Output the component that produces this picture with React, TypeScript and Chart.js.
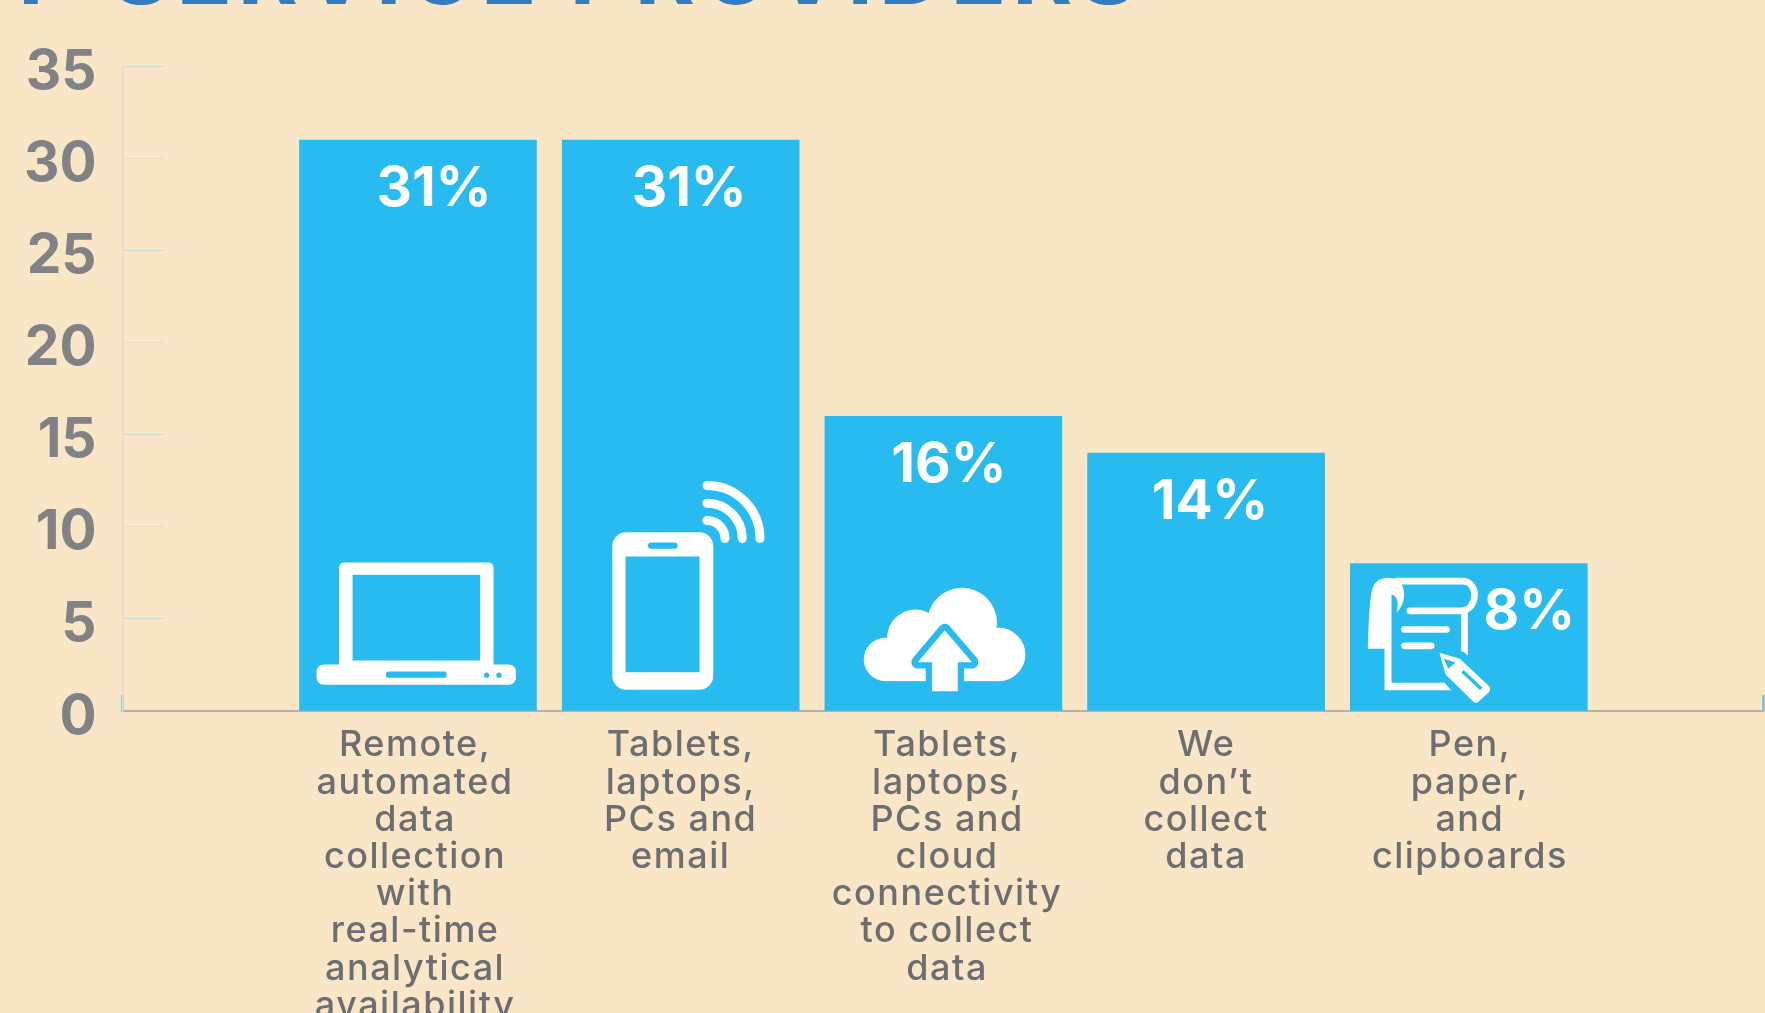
import React, { useEffect, useRef } from "react";
import { Chart, registerables } from "chart.js";

Chart.register(...registerables);

const headline = "P SERVICE PROVIDERS";
const categories: string[][] = [
  ["Remote,", "automated", "data", "collection", "with", "real-time", "analytical", "availability"],
  ["Tablets,", "laptops,", "PCs and", "email"],
  ["Tablets,", "laptops,", "PCs and", "cloud", "connectivity", "to collect", "data"],
  ["We", "don\u2019t", "collect", "data"],
  ["Pen,", "paper,", "and", "clipboards"],
];
const shares: number[] = [31, 31, 16, 14, 8];

const BLUE = "#27bbef";
const CREAM = "#f9e6c6";
const WHITE = "#ffffff";

// Horizontal extent of the value axis, in bar slots around the five bars.
const X_MIN = -1.124;
const X_MAX = 5.121;
// Caption centres sit slightly off some bar centres.
const captionNudge = [-0.011, 0, 0.014, 0, 0.004];
const percentNudge = [16, 8.5, 5.5, 4, 60.5];

type Ctx = CanvasRenderingContext2D;

function roundRect(c: Ctx, x: number, y: number, w: number, h: number, r: number) {
  c.beginPath();
  c.roundRect(x, y, w, h, r);
}

function drawLaptop(c: Ctx) {
  c.fillStyle = WHITE;
  roundRect(c, -79, -148, 154.6, 110, 5);
  c.fill();
  roundRect(c, -101.4, -46, 199.4, 20.3, 7);
  c.fill();
  c.fillStyle = BLUE;
  c.fillRect(-65.4, -135.7, 127.4, 85.7);
  roundRect(c, -32, -39, 60.6, 6.3, 2);
  c.fill();
  c.beginPath();
  c.arc(68.6, -35.3, 2.6, 0, Math.PI * 2);
  c.arc(81, -35.3, 2.6, 0, Math.PI * 2);
  c.fill();
}

function drawTablet(c: Ctx) {
  c.fillStyle = WHITE;
  roundRect(c, -68.4, -178.3, 101, 157.6, 14);
  c.fill();
  c.fillStyle = BLUE;
  c.fillRect(-55.1, -154, 74, 115.7);
  roundRect(c, -32.7, -168, 29.6, 6.3, 3);
  c.fill();
  c.strokeStyle = WHITE;
  c.lineWidth = 9;
  c.lineCap = "round";
  for (const r of [18, 35.3, 53]) {
    c.beginPath();
    c.arc(26.3, -172, r, -Math.PI / 2, 0);
    c.stroke();
  }
}

function drawCloud(c: Ctx) {
  c.save();
  c.translate(-93, -141);
  c.scale(1 / 3, 1 / 3);
  c.fillStyle = WHITE;
  for (const [x, y, r] of [[105, 270, 65], [195, 205, 85], [335, 160, 105], [445, 255, 80]]) {
    c.beginPath();
    c.arc(x, y, r, 0, Math.PI * 2);
    c.fill();
  }
  c.fillRect(105, 230, 340, 105);
  c.beginPath();
  c.moveTo(283, 182);
  c.lineTo(365, 278);
  c.lineTo(322, 278);
  c.lineTo(322, 365);
  c.lineTo(245, 365);
  c.lineTo(245, 278);
  c.lineTo(202, 278);
  c.closePath();
  c.strokeStyle = BLUE;
  c.lineWidth = 38;
  c.lineJoin = "round";
  c.stroke();
  c.fill();
  c.restore();
}

function drawClipboard(c: Ctx) {
  c.save();
  c.translate(-108.3, -141);
  c.scale(1 / 3, 1 / 3);
  c.fillStyle = WHITE;
  c.beginPath();
  c.moveTo(22, 238);
  c.bezierCurveTo(24, 150, 28, 90, 35, 60);
  c.bezierCurveTo(42, 35, 60, 25, 85, 25);
  c.lineTo(118, 30);
  c.bezierCurveTo(135, 60, 138, 100, 108, 130);
  c.bezierCurveTo(115, 100, 112, 80, 93, 75);
  c.lineTo(93, 340);
  c.lineTo(252, 340);
  c.lineTo(272, 362);
  c.lineTo(72, 362);
  c.lineTo(72, 238);
  c.closePath();
  c.fill();

  c.strokeStyle = WHITE;
  c.lineCap = "round";
  c.lineWidth = 20;
  c.beginPath();
  c.moveTo(110, 35);
  c.lineTo(305, 35);
  c.bezierCurveTo(332, 35, 342, 58, 342, 75);
  c.bezierCurveTo(342, 105, 325, 124, 300, 124);
  c.lineTo(148, 124);
  c.stroke();
  c.beginPath();
  c.moveTo(132, 180);
  c.lineTo(258, 180);
  c.moveTo(132, 229);
  c.lineTo(212, 229);
  c.stroke();

  c.beginPath();
  c.moveTo(302, 128);
  c.lineTo(322, 122);
  c.lineTo(322, 258);
  c.bezierCurveTo(315, 250, 310, 247, 302, 245);
  c.closePath();
  c.fill();

  // Pencil, with its point and barrel slot cut out in the bar colour.
  c.beginPath();
  c.moveTo(237, 250);
  c.lineTo(298, 268);
  c.lineTo(386, 350);
  c.quadraticCurveTo(392, 360, 385, 368);
  c.lineTo(352, 398);
  c.quadraticCurveTo(345, 403, 338, 396);
  c.lineTo(255, 315);
  c.closePath();
  c.fill();
  c.fillStyle = BLUE;
  c.beginPath();
  c.moveTo(250, 268);
  c.lineTo(285, 279);
  c.lineTo(263, 298);
  c.closePath();
  c.fill();
  c.strokeStyle = BLUE;
  c.lineWidth = 10;
  c.lineCap = "butt";
  c.beginPath();
  c.moveTo(306, 305);
  c.lineTo(362, 358);
  c.stroke();
  c.restore();
}

const iconPainters: ((c: Ctx) => void)[] = [drawLaptop, drawTablet, drawCloud, () => {}, drawClipboard];

const barDecorations = {
  id: "barDecorations",
  afterDatasetsDraw(chart: Chart) {
    const c = chart.ctx;
    chart.getDatasetMeta(0).data.forEach((bar: any, i: number) => {
      c.save();
      c.translate(bar.x, bar.base);
      iconPainters[i](c);
      c.restore();
      c.save();
      c.fillStyle = WHITE;
      c.font = "700 55px Inter";
      c.textAlign = "center";
      c.textBaseline = "middle";
      c.fillText(`${shares[i]}%`, bar.x + percentNudge[i], bar.y + 49);
      c.restore();
    });
  },
};

// The heading and captions are set in a wide face; tracking brings Inter to that measure.
function withTracking(target: any, method: string, spacing: string) {
  const original = target[method];
  target[method] = function (...args: any[]) {
    const c = this.ctx as any;
    c.letterSpacing = spacing;
    original.apply(this, args);
    c.letterSpacing = "0px";
  };
}

const wideText = {
  id: "wideText",
  afterLayout(chart: any) {
    if (chart.$tracked) return;
    chart.$tracked = true;
    withTracking(chart.scales.x, "drawLabels", "1.5px");
    withTracking(chart.titleBlock, "draw", "5.5px");
  },
};

export default function App() {
  const ref = useRef<HTMLCanvasElement>(null);

  useEffect(() => {
    document.body.style.margin = "0";
    document.body.style.background = CREAM;
    const captionTicks = [X_MIN, ...captionNudge.map((n, i) => i + n), X_MAX];
    const chart = new Chart(ref.current!, {
      type: "bar",
      data: {
        datasets: [
          {
            data: shares.map((y, x) => ({ x, y })),
            backgroundColor: BLUE,
            barThickness: 237,
          },
        ],
      },
      plugins: [barDecorations, wideText],
      options: {
        animation: false,
        responsive: false,
        layout: { padding: { left: 18, right: 1.7 } },
        plugins: {
          legend: { display: false },
          tooltip: { enabled: false },
          title: {
            display: true,
            text: headline,
            align: "start",
            color: "#337cc0",
            font: { family: "Inter", size: 92, weight: "700", lineHeight: 1 },
            padding: { top: -69.3, bottom: 43.6 },
          },
        },
        scales: {
          x: {
            type: "linear",
            offset: false,
            min: X_MIN,
            max: X_MAX,
            afterBuildTicks: (scale: any) => {
              scale.ticks = captionTicks.map((value) => ({ value }));
            },
            afterFit: (scale: any) => {
              scale.height = 302;
              scale.paddingLeft = 0;
              scale.paddingRight = 0;
            },
            grid: {
              offset: false,
              drawOnChartArea: false,
              tickLength: -16,
              tickWidth: 2.5,
              tickColor: (ctx: any) =>
                ctx.index === 0 || ctx.index === captionTicks.length - 1 ? "#6fc3dc" : "rgba(0,0,0,0)",
            },
            border: { color: "#b3b3a6", width: 2 },
            ticks: {
              autoSkip: false,
              maxRotation: 0,
              padding: 32,
              color: "#6d6e71",
              font: { family: "Inter", size: 36, weight: "500", lineHeight: "37.2px" },
              callback: (_v: any, i: number) => categories[i - 1] ?? "",
            },
          },
          y: {
            min: 0,
            max: 35,
            afterFit: (scale: any) => {
              scale.width = 104.7;
              scale.paddingTop = 0;
              scale.paddingBottom = 0;
            },
            grid: {
              drawOnChartArea: false,
              tickLength: -41.5,
              tickColor: (ctx: any) => (ctx.tick?.value === 0 ? "#7fc8da" : ctx.index % 2 ? "#c8e0d8" : "#e6dcc6"),
            },
            border: { color: "#e4dcc8", width: 1.5 },
            ticks: {
              stepSize: 5,
              padding: 67.7,
              labelOffset: 6,
              color: "#808285",
              font: { family: "Inter", size: 55, weight: "700" },
            },
          },
        },
      },
    } as any);
    return () => chart.destroy();
  }, []);

  return <canvas ref={ref} width={1765} height={1013} style={{ display: "block", background: CREAM }} />;
}
